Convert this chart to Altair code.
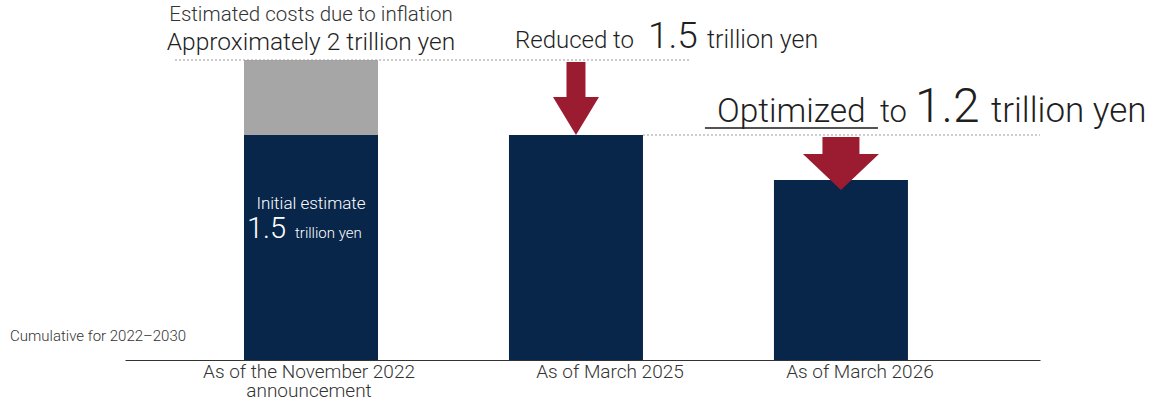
import altair as alt
import pandas as pd

# ---- data ----
categories = ["As of the November 2022\nannouncement", "As of March 2025", "As of March 2026"]
seg_category = [categories[0], categories[0], categories[1], categories[2]]
seg_name = ["Estimate", "Inflation", "Estimate", "Estimate"]
seg_order = [0, 1, 0, 0]
seg_value = [1.5, 0.5, 1.5, 1.2]

# annotation texts
top_note = ["Estimated costs due to inflation", "Approximately 2 trillion yen"]
inner_note = ["Initial estimate", "1.5", "trillion yen"]
reduced_note = ["Reduced to", "1.5", "trillion yen"]
optimized_note = ["Optimized", "to", "1.2", "trillion yen"]
period_note = "Cumulative for 2022\u20132030"

FONT = "Roboto"
WEIGHT = 300
NAVY = "#08264a"
GREY = "#a6a6a6"
RED = "#9b1b31"
INK = "#1f1f1f"

xscale = alt.Scale(domain=categories, paddingInner=0.494, paddingOuter=0.4736, align=0.474)
yscale = alt.Scale(domain=[0, 2.4], nice=False, zero=True)
xaxis = alt.Axis(labels=False, ticks=False, title=None, domainColor="#333333", domainWidth=1, grid=False)


def X(field="cat"):
    return alt.X(f"{field}:N", scale=xscale, axis=xaxis, sort=categories)


def Y(field="y"):
    return alt.Y(f"{field}:Q", scale=yscale, axis=None)


def txt(cat, yv, text, size, dx=0, align="left", color=INK, dy=0, weight=WEIGHT, **kw):
    df = pd.DataFrame({"cat": [cat], "y": [yv], "t": [text]})
    return alt.Chart(df).mark_text(
        align=align, baseline="alphabetic", dx=dx, dy=dy, fontSize=size,
        font=FONT, fontWeight=weight, color=color, **kw
    ).encode(x=X(), y=Y(), text="t:N")


bars_df = pd.DataFrame({"cat": seg_category, "seg": seg_name, "ord": seg_order, "y": seg_value})
bars = alt.Chart(bars_df).mark_bar(size=134).encode(
    x=X(),
    y=alt.Y("y:Q", scale=yscale, axis=None, stack="zero"),
    color=alt.Color("seg:N", scale=alt.Scale(domain=["Estimate", "Inflation"], range=[NAVY, GREY]), legend=None),
    order=alt.Order("ord:Q"),
)

# dotted guide lines
guide1 = alt.Chart(pd.DataFrame({"cat": [categories[0]], "cat2": [categories[1]], "y": [2.0]})).mark_rule(
    color="#9a9a9a", strokeDash=[2, 2], strokeWidth=1, xOffset=-136, x2Offset=114
).encode(x=X(), x2="cat2:N", y=Y())
guide2 = alt.Chart(pd.DataFrame({"cat": [categories[1]], "cat2": [categories[2]], "y": [1.5]})).mark_rule(
    color="#9a9a9a", strokeDash=[2, 2], strokeWidth=1, xOffset=67, x2Offset=199
).encode(x=X(), x2="cat2:N", y=Y())
underline = alt.Chart(pd.DataFrame({"cat": [categories[2]], "cat2": [categories[2]], "y": [1.5467]})).mark_rule(
    color="#1a1a1a", strokeWidth=1.5, xOffset=-136, x2Offset=37
).encode(x=X(), x2="cat2:N", y=Y())

# arrows
shaft1 = alt.Chart(pd.DataFrame({"cat": [categories[1]], "y": [1.987], "y2": [1.74]})).mark_bar(
    size=19, color=RED).encode(x=X(), y=Y(), y2="y2:Q")
head1 = alt.Chart(pd.DataFrame({"cat": [categories[1]], "y": [1.5]})).mark_point(
    shape="M-1,-1.652L1,-1.652L0,0Z", size=2116, filled=True, opacity=1, color=RED, strokeWidth=0
).encode(x=X(), y=Y())
shaft2 = alt.Chart(pd.DataFrame({"cat": [categories[2]], "y": [1.487], "y2": [1.36]})).mark_bar(
    size=37, color=RED).encode(x=X(), y=Y(), y2="y2:Q")
head2 = alt.Chart(pd.DataFrame({"cat": [categories[2]], "y": [1.2]})).mark_point(
    shape="M-1,-0.684L1,-0.684L0,0.263Z", size=5776, filled=True, opacity=1, color=RED, strokeWidth=0
).encode(x=X(), y=Y())

c0, c1, c2 = categories
texts = [
    txt(c0, 2.26, top_note[0], 20.5, align="center", color="#333333"),
    txt(c0, 2.0667, top_note[1], 24.5, align="center"),
    txt(c0, 1.0067, inner_note[0], 17, align="center", color="#ffffff"),
    txt(c0, 0.8133, inner_note[1], 29, dx=-64, color="#ffffff"),
    txt(c0, 0.8133, inner_note[2], 15, dx=-16, color="#ffffff"),
    txt(c0, 0.1267, period_note, 15, dx=-301, color="#333333"),
    txt(c1, 2.08, reduced_note[0], 24, dx=-61),
    txt(c1, 2.08, reduced_note[1], 37, dx=72),
    txt(c1, 2.08, reduced_note[2], 25, dx=131),
    txt(c2, 1.5867, optimized_note[0], 33.5, dx=-124),
    txt(c2, 1.5867, optimized_note[1], 31, dx=39),
    txt(c2, 1.5867, optimized_note[2], 48, dx=74),
    txt(c2, 1.5867, optimized_note[3], 35, dx=150),
]

# category labels under the axis
label_dx = [-2, 34, 19]
labels = [
    txt(c, 0, c, 19, dx=d, dy=18, align="center", color="#333333", lineBreak="\n", lineHeight=19)
    for c, d in zip(categories, label_dx)
]

chart = alt.layer(
    bars, guide1, guide2, underline, shaft1, head1, shaft2, head2, *texts, *labels
).properties(
    width=915, height=360,
    padding={"left": 125, "right": 124, "top": 0, "bottom": 42},
    autosize=alt.AutoSizeParams(type="none"),
    background="#ffffff",
).configure_view(stroke=None)

chart.save("out.html", embed_options={"renderer": "svg", "actions": False})
